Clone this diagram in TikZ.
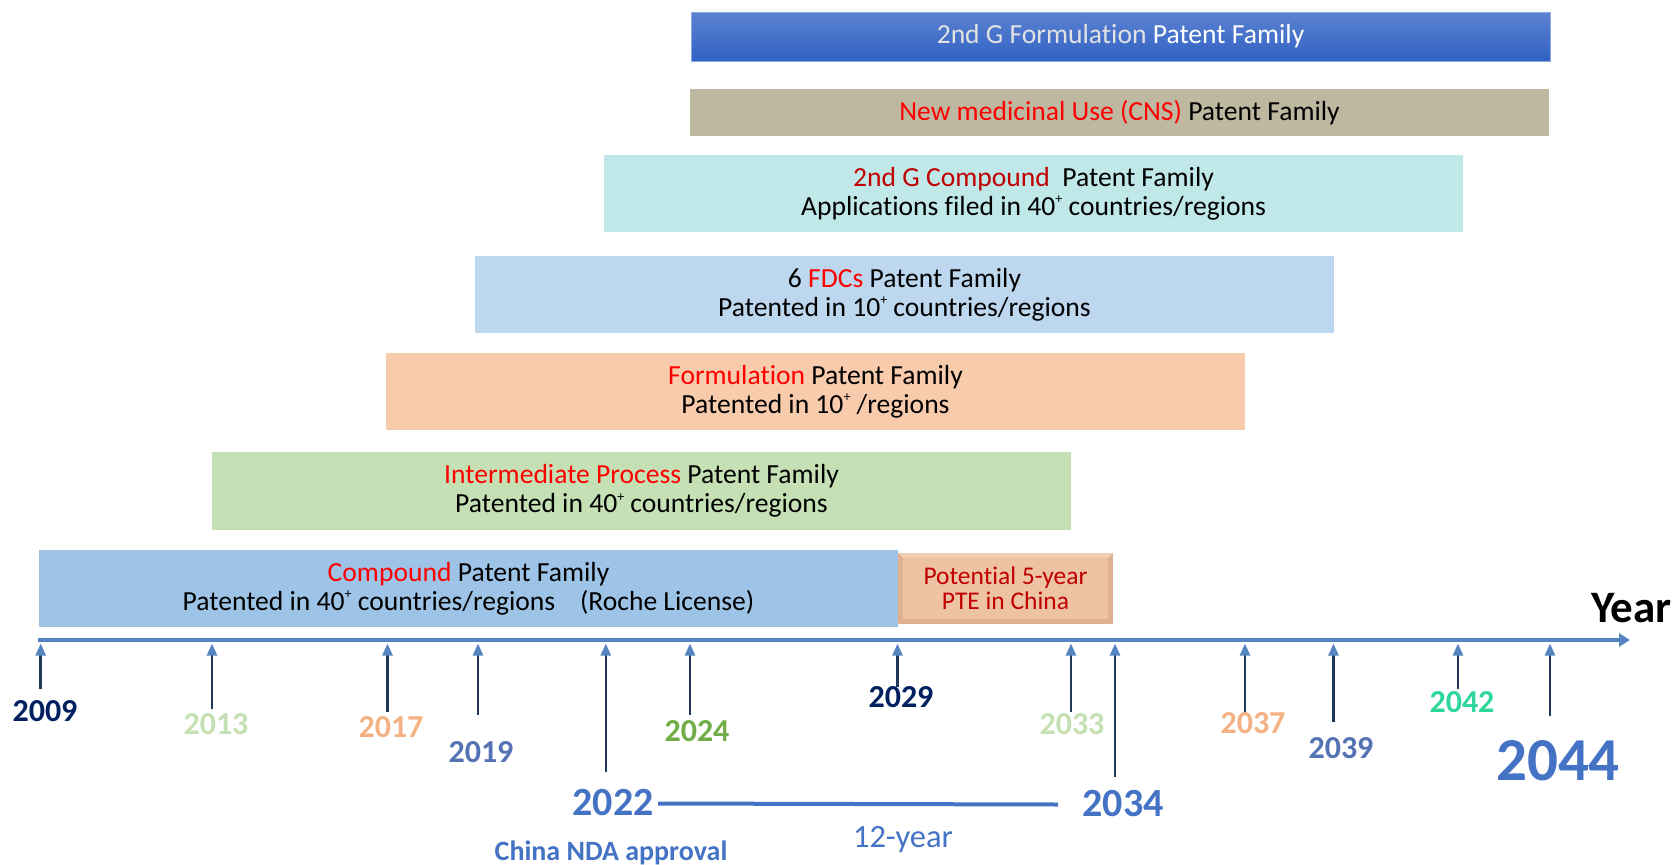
\documentclass[tikz,border=0pt]{standalone}
\usepackage{fontspec}
\setmainfont{Carlito}[Ligatures=NoCommon]
\usetikzlibrary{arrows.meta}
\definecolor{cComp}{HTML}{9DC3E6}
\definecolor{cInter}{HTML}{C5E0B4}
\definecolor{cForm}{HTML}{F8CBAD}
\definecolor{cFdc}{HTML}{BDD7EE}
\definecolor{cGcomp}{HTML}{C0E8E8}
\definecolor{cCns}{HTML}{BEB8A0}
\definecolor{cGtop}{HTML}{5C82D2}
\definecolor{cGbot}{HTML}{3062C2}
\definecolor{cPte}{HTML}{EEC3A3}
\definecolor{cPteDark}{HTML}{E0B090}
\definecolor{cRed}{HTML}{FF0000}
\definecolor{cDRed}{HTML}{C00000}
\definecolor{cAxis}{HTML}{5485C0}
\definecolor{cShaft}{HTML}{1F3857}
\definecolor{cHead}{HTML}{5A8AC6}
\definecolor{cNavy}{HTML}{002060}
\definecolor{cLGreen}{HTML}{C5E0B4}
\definecolor{cOrange}{HTML}{F4B183}
\definecolor{cMBlue}{HTML}{5572B4}
\definecolor{cBlue}{HTML}{4472C4}
\definecolor{cGreen}{HTML}{70AD47}
\definecolor{cTeal}{HTML}{2ED69A}
\definecolor{cLGray}{HTML}{E2E2E2}
\newcommand{\supplus}{\raisebox{0.42em}{\fontsize{14pt}{14pt}\selectfont +}}
\tikzset{
  fam/.style={rectangle, inner sep=0pt, align=center, text=black,
    minimum width=859pt, font=\fontsize{27.6pt}{29pt}\selectfont},
  yr/.style={inner sep=0pt, font=\bfseries\fontsize{32pt}{36pt}\selectfont},
  bigyr/.style={inner sep=0pt, font=\bfseries\fontsize{40pt}{44pt}\selectfont, text=cBlue},
  tickarr/.style={draw=cShaft, line width=2.6pt,
    -{Triangle[length=12pt,width=10pt,color=cAxis,fill=cHead]}},
  axisline/.style={draw=cAxis, line width=4.5pt,
    -{Triangle[length=11pt,width=13pt]}},
}
\begin{document}
\begin{tikzpicture}[x=1pt,y=-1pt]
\useasboundingbox (0,0) rectangle (1674,865);

% patent family bars
\node[fam, minimum height=49pt, top color=cGtop, bottom color=cGbot, draw=cGtop!70!white, line width=0.8pt] (gform) at (1120.5,36.5)
  {\textcolor{cLGray}{2nd G Formulation} \textcolor{white}{Patent Family}};
\node[fam, minimum height=47pt, fill=cCns] (cns) at (1119.5,112.5)
  {\textcolor{cRed}{New medicinal Use (CNS)} Patent Family};
\node[fam, minimum height=77pt, fill=cGcomp] (gcomp) at (1033.5,193.5)
  {\textcolor{cDRed}{2nd G Compound}\ \ Patent Family\\Applications filed in 40\supplus\ countries/regions};
\node[fam, minimum height=77pt, fill=cFdc] (fdc) at (904.5,294.5)
  {6 \textcolor{cRed}{FDCs} Patent Family\\Patented in 10\supplus\ countries/regions};
\node[fam, minimum height=77pt, fill=cForm] (form) at (815.5,391.5)
  {\textcolor{cRed}{Formulation} Patent Family\\Patented in 10\supplus\ /regions};
\node[fam, minimum height=78pt, fill=cInter] (inter) at (641.5,491)
  {\textcolor{cRed}{Intermediate Process} Patent Family\\Patented in 40\supplus\ countries/regions};
\node[fam, minimum height=77pt, fill=cComp] (comp) at (468.5,588.5)
  {\textcolor{cRed}{Compound} Patent Family\\Patented in 40\supplus\ countries/regions\hspace{0.9em}(Roche License)};

% PTE bevelled box
\fill[cPteDark] (898,553) rectangle (1113,624);
\fill[cPte!80!white] (898,553) -- (1113,553) -- (1108,558) -- (903,558) -- cycle;
\node[rectangle, inner sep=0pt, minimum width=205pt, minimum height=61pt, fill=cPte,
  align=center, text=cDRed, font=\fontsize{25.5pt}{25pt}\selectfont] (pte) at (1005.5,588.5)
  {Potential 5-year\\PTE in China};

% axis
\coordinate (axL) at (38,640);
\coordinate (axR) at (1630,640);
\draw[axisline] (axL) -- (axR);
\node[inner sep=0pt, anchor=base east, font=\bfseries\fontsize{45pt}{48pt}\selectfont] (year) at (1672,622) {Year};

% tick arrows
\foreach \nm/\x/\yb in {2009/40.7/689, 2013/212/709, 2017/387.5/712, 2019/478/715,
  2022/605.8/772, 2024/690/715, 2029/897.5/687, 2033/1071/712, 2034/1115/777,
  2037/1245/713, 2039/1333.5/722, 2042/1458/689, 2044/1550/716} {
  \coordinate (tb\nm) at (\x,\yb);
  \coordinate (ta\nm) at (\x,643.5);
  \draw[tickarr] (tb\nm) -- (ta\nm);
}

% year labels
\node[yr, text=cNavy]   (y2009) at (45,711) {2009};
\node[yr, text=cLGreen] (y2013) at (216,724) {2013};
\node[yr, text=cOrange] (y2017) at (391,727) {2017};
\node[yr, text=cMBlue]  (y2019) at (481,752) {2019};
\node[bigyr]            (y2022) at (613,803) {2022};
\node[yr, text=cGreen]  (y2024) at (697,731) {2024};
\node[yr, text=cNavy]   (y2029) at (901,697) {2029};
\node[yr, text=cLGreen] (y2033) at (1072,724) {2033};
\node[bigyr]            (y2034) at (1123,804) {2034};
\node[yr, text=cOrange] (y2037) at (1253,723) {2037};
\node[yr, text=cMBlue]  (y2039) at (1341,748) {2039};
\node[yr, text=cTeal]   (y2042) at (1462,702) {2042};
\node[inner sep=0pt, text=cBlue, font=\bfseries\fontsize{61pt}{64pt}\selectfont] (y2044) at (1558,761) {2044};

% 12-year span
\coordinate (spanL) at (658,803.5);
\coordinate (spanR) at (1058,804.5);
\draw[draw=cBlue, line width=4pt] (spanL) -- (spanR);
\node[inner sep=0pt, anchor=base, text=cBlue, font=\fontsize{32.5pt}{34pt}\selectfont] (span) at (903,847) {12-year};
\node[inner sep=0pt, anchor=base, text=cBlue, font=\bfseries\fontsize{28pt}{30pt}\selectfont] (nda) at (611,860) {China NDA approval};
\end{tikzpicture}
\end{document}
